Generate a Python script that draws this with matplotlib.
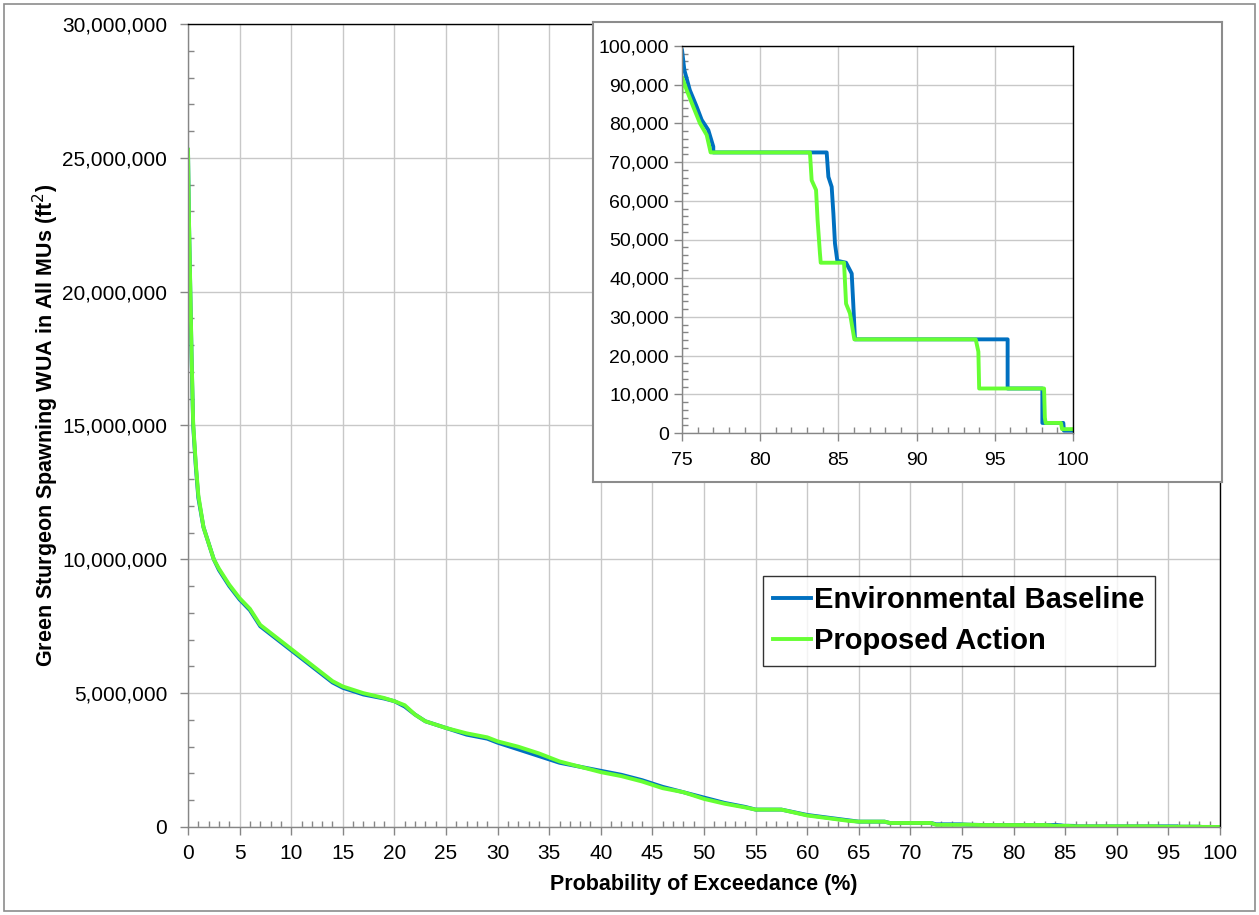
import matplotlib
matplotlib.use("Agg")
import matplotlib.pyplot as plt
from matplotlib.ticker import MultipleLocator, FuncFormatter
from matplotlib.patches import Rectangle

plt.rcParams['font.family'] = ['Liberation Sans', 'DejaVu Sans']

# ---------------- data ----------------
base_p = [0, 0.1, 0.2, 0.35, 0.5, 0.75, 1.0, 1.5, 2.0, 2.5, 3.0, 4.0, 5.0, 6.0, 7.0, 8.0, 9.0,
          10.0, 11.0, 12.0, 13.0, 14.0, 15.0, 17.0, 19.0, 20.0, 21.0, 22.0, 23.0, 25.0, 27.0,
          29.0, 30.0, 32.0, 34.0, 36.0, 38.0, 40.0, 42.0, 44.0, 46.0, 48.0, 50.0, 52.0, 54.0,
          55.0, 57.5, 60.0, 62.0, 64.0, 65.0, 67.5, 68.0, 72.0, 72.5, 74.9,
          75.0, 75.15, 75.5, 75.94, 76.26, 76.68, 77.0, 77.0, 84.25, 84.36, 84.57, 84.68, 84.78,
          84.93, 85.49, 85.85, 85.95, 86.06, 95.82, 95.82, 98.04, 98.04, 99.38, 99.42, 100.0]
base_v = [25300000, 22500000, 20500000, 17500000, 15000000, 13500000, 12300000, 11200000,
          10600000, 10000000, 9600000, 9000000, 8500000, 8100000, 7500000, 7200000, 6900000,
          6600000, 6300000, 6000000, 5700000, 5400000, 5200000, 4950000, 4800000, 4700000,
          4500000, 4200000, 3950000, 3700000, 3450000, 3300000, 3150000, 2900000, 2650000,
          2400000, 2250000, 2100000, 1950000, 1750000, 1500000, 1300000, 1100000, 900000,
          750000, 650000, 650000, 450000, 350000, 250000, 200000, 200000, 150000, 150000,
          100000, 100000,
          99000, 93800, 88600, 84300, 80900, 78300, 74000, 72500, 72500, 66200, 63600, 56700,
          49000, 44500, 44000, 41200, 33400, 24200, 24200, 11500, 11500, 2600, 2600, 600, 600]

prop_p = [0, 0.1, 0.2, 0.35, 0.5, 0.75, 1.0, 1.5, 2.0, 2.5, 3.0, 4.0, 5.0, 6.0, 7.0, 8.0, 9.0,
          10.0, 11.0, 12.0, 13.0, 14.0, 15.0, 17.0, 19.0, 20.0, 21.0, 22.0, 23.0, 25.0, 27.0,
          29.0, 30.0, 32.0, 34.0, 36.0, 38.0, 40.0, 42.0, 44.0, 46.0, 48.0, 50.0, 52.0, 54.0,
          55.0, 57.5, 60.0, 62.0, 64.0, 65.0, 67.5, 68.0, 72.0, 72.5, 74.9,
          75.0, 75.3, 75.72, 76.15, 76.58, 76.83, 83.18, 83.29, 83.57, 83.67, 83.82, 83.87,
          85.36, 85.49, 85.74, 86.02, 93.78, 93.95, 94.0, 98.15, 98.2, 98.25, 99.23, 99.3, 100.0]
prop_v = [25300000, 22600000, 20600000, 17600000, 15100000, 13600000, 12400000, 11200000,
          10600000, 10000000, 9650000, 9050000, 8550000, 8150000, 7550000, 7250000, 6950000,
          6650000, 6350000, 6050000, 5750000, 5450000, 5250000, 5000000, 4820000, 4700000,
          4550000, 4200000, 3950000, 3700000, 3500000, 3350000, 3200000, 3000000, 2750000,
          2450000, 2250000, 2050000, 1900000, 1700000, 1450000, 1300000, 1050000, 870000,
          730000, 650000, 650000, 430000, 330000, 230000, 200000, 200000, 150000, 150000,
          80000, 80000,
          92000, 88600, 84300, 80000, 77000, 72500, 72500, 65300, 62800, 55000, 46400, 44000,
          44000, 33400, 30900, 24200, 24200, 21000, 11500, 11500, 4000, 2600, 2600, 1000, 1000]

series_labels = ["Environmental Baseline", "Proposed Action"]
series_colors = ["#0070C0", "#66FF33"]

# ---------------- figure ----------------
W, H = 1259, 915
fig = plt.figure(figsize=(W / 100, H / 100), dpi=100)
fig.patches.append(Rectangle((4 / W, 4 / H), (W - 8) / W, (H - 8) / H, transform=fig.transFigure,
                             fill=False, edgecolor="#8c8c8c", linewidth=1.2))

grid_c = "#c8c8c8"
axis_c = "#868686"

def style_axes(ax, lw_spine=1.0):
    ax.spines['top'].set_color('black')
    ax.spines['right'].set_color('black')
    ax.spines['left'].set_color(axis_c)
    ax.spines['bottom'].set_color(axis_c)
    for s in ax.spines.values():
        s.set_linewidth(lw_spine)
    ax.grid(True, which='major', color=grid_c, linewidth=1.0)
    ax.set_axisbelow(True)
    ax.tick_params(which='major', direction='out', length=6, color=axis_c, width=1.0)
    ax.tick_params(which='minor', direction='in', length=4, color=axis_c, width=1.0)

# main axes
ax = fig.add_axes([188 / W, (H - 827) / H, (1220 - 188) / W, (827 - 24) / H])
ax.plot(base_p, base_v, color=series_colors[0], lw=2.8, label=series_labels[0])
ax.plot(prop_p, prop_v, color=series_colors[1], lw=2.8, label=series_labels[1])
ax.set_xlim(0, 100)
ax.set_ylim(0, 30000000)
ax.xaxis.set_major_locator(MultipleLocator(5))
ax.xaxis.set_minor_locator(MultipleLocator(1))
ax.yaxis.set_major_locator(MultipleLocator(5000000))
ax.yaxis.set_minor_locator(MultipleLocator(1000000))
ax.yaxis.set_major_formatter(FuncFormatter(lambda v, _: f"{int(v):,}"))
style_axes(ax)
ax.tick_params(labelsize=15)
ax.tick_params(axis='y', which='major', pad=9)
ax.tick_params(axis='x', which='major', pad=6)
ax.set_xlabel("Probability of Exceedance (%)", fontsize=15.5, fontweight='bold', labelpad=8)
ax.set_ylabel("Green Sturgeon Spawning WUA in All MUs (ft$^2$)", fontsize=15.5, fontweight='bold',
              labelpad=1)
leg = ax.legend(loc='upper left', bbox_to_anchor=((763 - 188) / (1220 - 188), (827 - 576) / (827 - 24)),
                prop={'weight': 'bold', 'size': 21}, frameon=True, fancybox=False,
                edgecolor='black', handlelength=1.3, handletextpad=0.1, borderpad=0.35,
                labelspacing=0.45, borderaxespad=0)
leg.get_frame().set_linewidth(1.0)

# inset frame
frame = fig.add_axes([593 / W, (H - 482) / H, (1222 - 593) / W, (482 - 22) / H])
frame.set_xticks([])
frame.set_yticks([])
frame.set_facecolor('white')
for s in frame.spines.values():
    s.set_color('#8c8c8c')
    s.set_linewidth(1.5)

# inset axes
ins = fig.add_axes([682 / W, (H - 433) / H, (1073 - 682) / W, (433 - 46) / H])
ins.plot(base_p, base_v, color=series_colors[0], lw=2.8)
ins.plot(prop_p, prop_v, color=series_colors[1], lw=2.8)
ins.set_xlim(75, 100)
ins.set_ylim(0, 100000)
ins.xaxis.set_major_locator(MultipleLocator(5))
ins.xaxis.set_minor_locator(MultipleLocator(1))
ins.yaxis.set_major_locator(MultipleLocator(10000))
ins.yaxis.set_minor_locator(MultipleLocator(2000))
ins.yaxis.set_major_formatter(FuncFormatter(lambda v, _: f"{int(v):,}"))
style_axes(ins)
ins.tick_params(labelsize=14)
ins.tick_params(axis='x', which='major', pad=8)

fig.savefig("out.png", dpi=100)
